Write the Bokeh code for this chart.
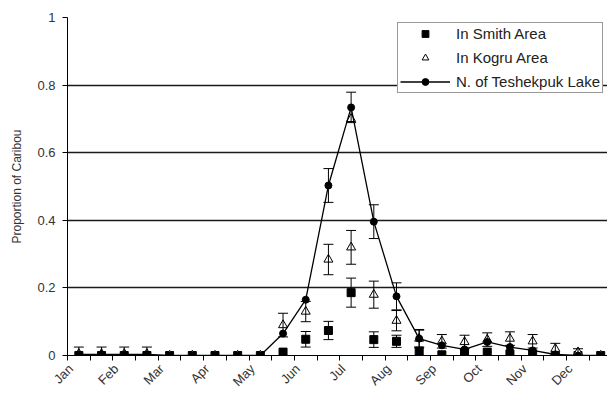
from math import pi
from bokeh.plotting import figure
from bokeh.models import (ColumnDataSource, FixedTicker, Range1d, Whisker, TeeHead,
                          Legend, LegendItem, NumeralTickFormatter)
from bokeh.embed import file_html
from bokeh.resources import INLINE

# ---- data (semi-monthly survey periods, Jan 1 .. Dec 15) ----
months = ["Jan", "Feb", "Mar", "Apr", "May", "Jun",
          "Jul", "Aug", "Sep", "Oct", "Nov", "Dec"]
period = list(range(24))

smith = [0.0, 0.0, 0.0, 0.0, 0.0, 0.0, 0.0, 0.0, 0.0, 0.01, 0.048, 0.074,
         0.186, 0.047, 0.042, 0.013, 0.002, 0.01, 0.01, 0.005, 0.005, 0.0, 0.0, 0.0]
smith_se = [0, 0, 0, 0, 0, 0, 0, 0, 0, 0, 0.023, 0.027,
            0.043, 0.023, 0.018, 0, 0, 0, 0, 0, 0, 0, 0, 0]

kogru = [0.005, 0.005, 0.005, 0.005, 0.0, 0.0, 0.0, 0.0, 0.0, 0.09, 0.13, 0.284,
         0.32, 0.18, 0.103, 0.05, 0.042, 0.04, 0.047, 0.05, 0.042, 0.02, 0.01, 0.0]
kogru_se = [0.02, 0.02, 0.02, 0.02, 0, 0, 0, 0, 0, 0.035, 0.03, 0.045,
            0.05, 0.04, 0.03, 0.025, 0.02, 0.02, 0.02, 0.02, 0.02, 0.016, 0.01, 0]
kogru_extra_period = [12]
kogru_extra = [0.70]

teshekpuk = [0.003, 0.003, 0.003, 0.003, 0.0, 0.0, 0.0, 0.0, 0.0, 0.065, 0.165, 0.503,
             0.734, 0.396, 0.175, 0.05, 0.03, 0.018, 0.04, 0.025, 0.015, 0.003, 0.0, 0.0]
teshekpuk_se = [0, 0, 0, 0, 0, 0, 0, 0, 0, 0, 0, 0.05,
                0.045, 0.05, 0.04, 0.027, 0, 0, 0, 0, 0, 0, 0, 0]

y_ticks = [0, 0.2, 0.4, 0.6, 0.8, 1.0]

FONT = "Liberation Sans"
TXT = "#333333"


def whisker_source(vals, ses):
    xs, lo, hi = [], [], []
    for i, (v, s) in enumerate(zip(vals, ses)):
        if s > 0:
            xs.append(period[i] + 0.5)
            lo.append(max(v - s, 0.0))
            hi.append(v + s)
    return ColumnDataSource(dict(x=xs, lo=lo, hi=hi))


xpos = [i + 0.5 for i in period]

p = figure(width=607, height=399, output_backend="svg", toolbar_location=None,
           x_range=Range1d(0, 23.8), y_range=Range1d(0, 1),
           min_border_left=67, min_border_right=0, min_border_top=17, min_border_bottom=44)
p.outline_line_color = None
p.background_fill_color = "white"
p.border_fill_color = "white"

# grid
p.xgrid.visible = False
p.ygrid.ticker = FixedTicker(ticks=y_ticks[1:])
p.ygrid.grid_line_color = "#1a1a1a"
p.ygrid.grid_line_width = 1.3

# y axis
p.yaxis.ticker = FixedTicker(ticks=y_ticks)
p.yaxis.formatter = NumeralTickFormatter(format="0.[0]")
p.yaxis.axis_label = "Proportion of Caribou"
p.yaxis.axis_label_text_font = FONT
p.yaxis.axis_label_text_font_style = "normal"
p.yaxis.axis_label_text_font_size = "12px"
p.yaxis.axis_label_text_color = TXT
p.yaxis.axis_label_standoff = 10
p.yaxis.major_label_text_font = FONT
p.yaxis.major_label_text_font_size = "13px"
p.yaxis.major_label_text_color = TXT
p.yaxis.major_label_standoff = 7
p.yaxis.major_tick_out = 5
p.yaxis.major_tick_in = 0
p.yaxis.minor_tick_line_color = None
p.yaxis.axis_line_color = "black"
p.yaxis.major_tick_line_color = "black"

# x axis (month labels sit just left of the first survey period of each month)
label_ticks = [0.15 + 2 * k for k in range(len(months))]
p.xaxis.ticker = FixedTicker(ticks=label_ticks, minor_ticks=list(range(25)))
p.xaxis.major_label_overrides = {t: m for t, m in zip(label_ticks, months)}
p.xaxis.major_label_orientation = pi / 4
p.xaxis.major_label_text_font = FONT
p.xaxis.major_label_text_font_size = "13px"
p.xaxis.major_label_text_color = TXT
p.xaxis.major_label_standoff = 6
p.xaxis.major_tick_out = 0
p.xaxis.major_tick_in = 0
p.xaxis.minor_tick_out = 5
p.xaxis.minor_tick_in = 0
p.xaxis.minor_tick_line_color = "black"
p.xaxis.axis_line_color = "black"

# error bars
for vals, ses in [(smith, smith_se), (kogru, kogru_se), (teshekpuk, teshekpuk_se)]:
    w = Whisker(base="x", lower="lo", upper="hi", source=whisker_source(vals, ses),
                line_color="black", line_width=1,
                upper_head=TeeHead(size=10, line_color="black", line_width=1),
                lower_head=TeeHead(size=10, line_color="black", line_width=1))
    w.level = "glyph"
    p.add_layout(w)

sq = p.scatter(xpos, smith, marker="square", size=8, fill_color="black", line_color="black")
tri = p.scatter(xpos, kogru, marker="triangle", size=9, fill_color="white",
                line_color="black", line_width=1)
p.scatter([i + 0.5 for i in kogru_extra_period], kogru_extra, marker="triangle", size=9,
          fill_color="white", line_color="black", line_width=1)
ln = p.line(xpos, teshekpuk, line_color="black", line_width=1.3)
ci = p.scatter(xpos, teshekpuk, marker="circle", size=7, fill_color="black", line_color="black")

legend = Legend(items=[LegendItem(label="In Smith Area", renderers=[sq]),
                       LegendItem(label="In Kogru Area", renderers=[tri]),
                       LegendItem(label="N. of Teshekpuk Lake", renderers=[ln, ci])],
                location=(330, 262), margin=0, padding=2, spacing=7,
                glyph_width=50, glyph_height=17, label_height=17, label_standoff=6,
                label_text_font=FONT, label_text_font_size="15px", label_text_color="#222222",
                border_line_color="#333333", border_line_width=1,
                background_fill_color="white", background_fill_alpha=1.0)
p.add_layout(legend)

open("out.html", "w").write(file_html(p, INLINE))
